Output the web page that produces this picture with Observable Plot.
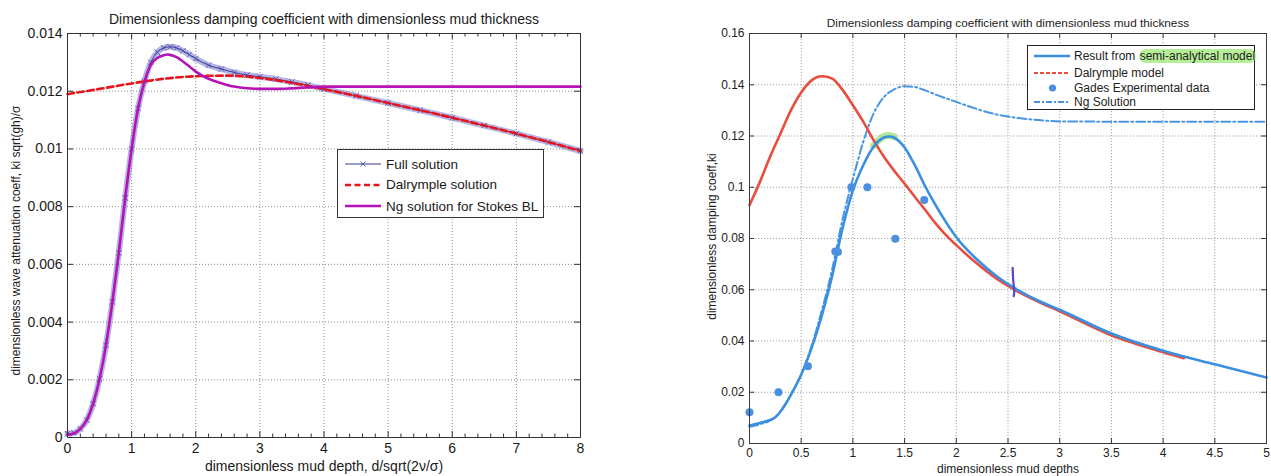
<!DOCTYPE html>
<html><head><meta charset="utf-8">
<script src="https://cdn.jsdelivr.net/npm/d3@7"></script>
<script src="https://cdn.jsdelivr.net/npm/@observablehq/plot@0.6"></script>
<style>
body{margin:0;background:#fff;}
#wrap{position:relative;width:1271px;height:476px;overflow:hidden;font-family:"Liberation Sans",Arial,sans-serif;}
#left,#right{position:absolute;top:0;}
#left{left:0}
#right{left:640px}
.legend{position:absolute;background:#fff;border:1px solid #333;box-sizing:border-box;}
.row{position:absolute;left:0;display:flex;align-items:center;white-space:nowrap;}
.row svg{display:block;}
.hl{background:#b6ee98;border-radius:7px;padding:0 1px;}
</style>
</head><body>
<div id="wrap">
  <div id="left"></div>
  <div id="right"></div>
</div>
<script>
// ---------------- LEFT PANEL DATA ----------------
const leftTitle = "Dimensionless damping coefficient with dimensionless mud thickness";
const leftXLabel = "dimensionless mud depth, d/sqrt(2\u03bd/\u03c3)";
const leftYLabel = "dimensionless wave attenuation coeff, ki sqrt(gh)/\u03c3";
const leftXTicks = [0,1,2,3,4,5,6,7,8];
const leftYTicks = [0,0.002,0.004,0.006,0.008,0.01,0.012,0.014];

const fullX = [0,0.1,0.2,0.3,0.4,0.5,0.6,0.7,0.8,0.9,1.0,1.1,1.2,1.3,1.4,1.5,1.6,1.7,1.8,1.9,2.0,2.2,2.4,2.6,2.8,3.0,3.25,3.5,3.75,4.0,4.5,5,5.5,6,6.5,7,7.5,8];
const fullY = [0.00013,0.00016,0.0003,0.0006,0.00117,0.00203,0.0032,0.0047,0.0064,0.0083,0.0100,0.0114,0.01235,0.0130,0.01335,0.01350,0.01354,0.01350,0.01340,0.01327,0.01313,0.01290,0.01277,0.01265,0.01256,0.01250,0.01242,0.01232,0.01221,0.01208,0.01184,0.01159,0.01134,0.01108,0.01081,0.01053,0.01024,0.00993];

const ngLX = [0,0.1,0.2,0.3,0.4,0.5,0.6,0.7,0.8,0.9,1.0,1.1,1.2,1.3,1.4,1.5,1.56,1.6,1.7,1.8,1.9,2.0,2.2,2.4,2.6,2.8,3.0,3.25,3.5,3.75,4.0,5,6,7,8];
const ngLY = [0.0001,0.00014,0.0003,0.0006,0.00117,0.00203,0.0032,0.0047,0.0064,0.0083,0.0100,0.0114,0.01232,0.01292,0.01315,0.01325,0.01327,0.01326,0.01318,0.01303,0.01286,0.01268,0.01243,0.01228,0.01216,0.01210,0.01208,0.01208,0.01210,0.01213,0.01216,0.01216,0.01216,0.01216,0.01216];

const dalLX = [0,0.5,1,1.5,2,2.5,3,3.5,4,4.5,5,5.5,6,6.5,7,7.5,8];
const dalLY = [0.0119,0.01208,0.01227,0.01243,0.01252,0.01254,0.01246,0.01229,0.01207,0.01184,0.01159,0.01134,0.01108,0.01081,0.01053,0.01024,0.00993];

const leftLegend = ["Full solution","Dalrymple solution","Ng solution for Stokes BL"];

// ---------------- RIGHT PANEL DATA ----------------
const rightTitle = "Dimensionless damping coefficient with dimensionless mud thickness";
const rightXLabel = "dimensionless mud depths";
const rightYLabel = "dimensionless damping coeff,ki";
const rightXTicks = [0,0.5,1,1.5,2,2.5,3,3.5,4,4.5,5];
const rightYTicks = [0,0.02,0.04,0.06,0.08,0.1,0.12,0.14,0.16];

const semiX = [0,0.1,0.2,0.25,0.3,0.35,0.4,0.5,0.6,0.7,0.8,0.9,1.0,1.1,1.2,1.3,1.35,1.4,1.5,1.6,1.7,1.8,1.9,2.0,2.2,2.4,2.6,2.8,3.0,3.5,4.0,4.5,5.0];
const semiY = [0.0070,0.0080,0.0092,0.0102,0.0125,0.0155,0.0190,0.0268,0.0372,0.0500,0.0655,0.0840,0.0988,0.1086,0.1158,0.1194,0.1198,0.1193,0.1155,0.1085,0.1003,0.0930,0.0864,0.0805,0.0718,0.0650,0.0598,0.0556,0.0522,0.0429,0.0362,0.0309,0.0258];

const dalRX = [0,0.1,0.2,0.3,0.4,0.5,0.6,0.7,0.8,0.9,1.0,1.1,1.2,1.3,1.4,1.5,1.6,1.7,1.8,1.9,2.0,2.2,2.4,2.6,2.8,3.0,3.5,4.0,4.2];
const dalRY = [0.093,0.102,0.112,0.121,0.130,0.137,0.1417,0.1433,0.1424,0.138,0.132,0.1256,0.1184,0.1119,0.1064,0.1014,0.0962,0.0911,0.0859,0.0813,0.0774,0.0702,0.0640,0.0592,0.0552,0.0516,0.0422,0.0356,0.0333];

const ngRX = [0,0.1,0.2,0.3,0.4,0.5,0.6,0.7,0.8,0.9,1.0,1.1,1.2,1.3,1.4,1.5,1.6,1.7,1.8,2.0,2.2,2.4,2.6,2.8,3.0,3.5,4.0,4.5,5.0];
const ngRY = [0.0065,0.0075,0.0090,0.0125,0.019,0.027,0.038,0.052,0.068,0.0875,0.1033,0.1177,0.1288,0.1352,0.1382,0.1394,0.1391,0.1378,0.1362,0.1333,0.1305,0.1283,0.1270,0.1262,0.1257,0.1256,0.1256,0.1256,0.1256];

const gadesX = [0,0.28,0.565,0.83,0.855,0.985,1.14,1.41,1.69];
const gadesY = [0.0122,0.020,0.0301,0.0749,0.0747,0.100,0.100,0.0799,0.0950];

const penX = [2.545,2.55,2.56,2.555];
const penY = [0.0685,0.064,0.059,0.0575];

const rightLegend = ["Result from ","semi-analytical model","Dalrymple model","Gades Experimental data","Ng Solution"];

// ---------------- HELPERS ----------------
const zip = (xs, ys) => xs.map((x, i) => ({x, y: ys[i]}));
const fmt = d => d === 0 ? "0" : String(+d.toFixed(4));
const FONT = "'Liberation Sans', Arial, sans-serif";

// ---------------- LEFT PLOT ----------------
{
  const W = 640, H = 476, ml = 67, mr = 60, mt = 33, mb = 39;
  const ph = H - mt - mb;
  const pw = W - ml - mr;
  const minor = d3.range(0, 41).map(i => i * 0.2).filter(v => !leftXTicks.includes(Math.round(v*100)/100));
  const full = zip(fullX, fullY), ng = zip(ngLX, ngLY), dal = zip(dalLX, dalLY);
  const grid = {stroke: "#8c8c8c", strokeWidth: 1, strokeDasharray: "1,2"};
  const txt = {fill: "#1a1a1a", textAnchor: "middle", lineAnchor: "middle"};
  const p = Plot.plot({
    width: W, height: H, marginLeft: ml, marginRight: mr, marginTop: mt, marginBottom: mb,
    style: {fontFamily: FONT, background: "transparent", color: "#1a1a1a"},
    x: {domain: [0, 8], axis: null},
    y: {domain: [0, 0.014], axis: null},
    marks: [
      Plot.ruleX(leftXTicks.slice(1, -1), grid),
      Plot.ruleY(leftYTicks.slice(1, -1), grid),
      Plot.tickX(leftXTicks, {x: d => d, insetTop: ph - 6, stroke: "#333"}),
      Plot.tickX(leftXTicks, {x: d => d, insetBottom: ph - 6, stroke: "#333"}),
      Plot.tickX(minor, {x: d => d, insetTop: ph - 3.5, stroke: "#333"}),
      Plot.tickX(minor, {x: d => d, insetBottom: ph - 3.5, stroke: "#333"}),
      Plot.tickY(leftYTicks, {y: d => d, insetRight: pw - 6, stroke: "#333"}),
      Plot.tickY(leftYTicks, {y: d => d, insetLeft: pw - 6, stroke: "#333"}),
      Plot.line(full, {x: "x", y: "y", stroke: "#6e6ec8", strokeWidth: 6, strokeOpacity: 0.5, curve: "monotone-x"}),
      Plot.line(full, {x: "x", y: "y", stroke: "#3a3a96", strokeWidth: 1, curve: "monotone-x"}),
      Plot.dot(full, {x: "x", y: "y", symbol: "times", r: 2.6, stroke: "#4b4bb0", strokeWidth: 0.9}),
      Plot.line(dal, {x: "x", y: "y", stroke: "#e8141c", strokeWidth: 2.6, strokeDasharray: "6.5,3.5", curve: "monotone-x"}),
      Plot.line(ng, {x: "x", y: "y", stroke: "#b512b8", strokeWidth: 2.6, curve: "monotone-x"}),
      Plot.frame({stroke: "#333", strokeWidth: 1}),
      Plot.text(leftXTicks, {...txt, x: d => d, frameAnchor: "bottom", dy: 11, text: fmt, fontSize: 14}),
      Plot.text(leftYTicks, {...txt, y: d => d, frameAnchor: "left", dx: -5, textAnchor: "end", text: fmt, fontSize: 14}),
      Plot.text([leftXLabel], {...txt, text: d => d, frameAnchor: "bottom", dy: 29, fontSize: 14}),
      Plot.text([leftYLabel], {...txt, text: d => d, frameAnchor: "left", dx: -51, dy: 5, rotate: -90, fontSize: 12}),
      Plot.text([leftTitle], {...txt, text: d => d, frameAnchor: "top", dy: -14, fontSize: 14})
    ]
  });
  document.getElementById("left").appendChild(p);

  const lg = document.createElement("div");
  lg.className = "legend";
  Object.assign(lg.style, {left: "337px", top: "149px", width: "207px", height: "69px"});
  const samples = [
    `<svg width="36" height="10"><line x1="0" y1="5" x2="36" y2="5" stroke="#3a3a96" stroke-width="1"/><path d="M15.5,2.5L20.5,7.5M20.5,2.5L15.5,7.5" stroke="#4b4bb0" stroke-width="0.9"/></svg>`,
    `<svg width="36" height="10"><line x1="0" y1="5" x2="36" y2="5" stroke="#e8141c" stroke-width="2.6" stroke-dasharray="6,3.5"/></svg>`,
    `<svg width="36" height="10"><line x1="0" y1="5" x2="36" y2="5" stroke="#b512b8" stroke-width="2.6"/></svg>`
  ];
  const tops = [14, 34.5, 56];
  leftLegend.forEach((t, i) => {
    const r = document.createElement("div");
    r.className = "row";
    Object.assign(r.style, {left: "7px", top: (tops[i] - 9) + "px", height: "18px", fontSize: "13.5px", color: "#1a1a1a"});
    r.innerHTML = samples[i] + `<span style="margin-left:5px">${t}</span>`;
    lg.appendChild(r);
  });
  document.getElementById("wrap").appendChild(lg);
}

// ---------------- RIGHT PLOT ----------------
{
  const W = 631, H = 476, ml = 109, mr = 5, mt = 33, mb = 33;
  const ph = H - mt - mb;
  const pw = W - ml - mr;
  const semi = zip(semiX, semiY), dal = zip(dalRX, dalRY), ng = zip(ngRX, ngRY), gades = zip(gadesX, gadesY), pen = zip(penX, penY);
  const grid = {stroke: "#9a9a9a", strokeWidth: 1, strokeDasharray: "1.2,1.8", strokeOpacity: 0.9};
  const txt = {fill: "#222", textAnchor: "middle", lineAnchor: "middle"};
  const p = Plot.plot({
    width: W, height: H, marginLeft: ml, marginRight: mr, marginTop: mt, marginBottom: mb,
    style: {fontFamily: FONT, background: "transparent", color: "#222"},
    x: {domain: [0, 5], axis: null},
    y: {domain: [0, 0.16], axis: null},
    marks: [
      Plot.ruleX(rightXTicks.slice(1, -1), grid),
      Plot.ruleY(rightYTicks.slice(1, -1), grid),
      Plot.tickX(rightXTicks, {x: d => d, insetTop: ph - 5, stroke: "#333"}),
      Plot.tickX(rightXTicks, {x: d => d, insetBottom: ph - 5, stroke: "#333"}),
      Plot.tickY(rightYTicks, {y: d => d, insetRight: pw - 5, stroke: "#333"}),
      Plot.tickY(rightYTicks, {y: d => d, insetLeft: pw - 5, stroke: "#333"}),
      Plot.line(semi.filter(d => d.x >= 1.15 && d.x <= 1.42), {x: "x", y: "y", stroke: "#a6e486", strokeWidth: 7, strokeOpacity: 0.85, dy: -1, curve: "monotone-x"}),
      Plot.line(ng, {x: "x", y: "y", stroke: "#4a95e2", strokeWidth: 2, strokeDasharray: "9,3,2,3", curve: "monotone-x"}),
      Plot.line(dal, {x: "x", y: "y", stroke: "#e84d3e", strokeWidth: 2.6, curve: "monotone-x"}),
      Plot.line(semi, {x: "x", y: "y", stroke: "#3a8fe0", strokeWidth: 2.6, curve: "monotone-x"}),
      Plot.dot(gades, {x: "x", y: "y", r: 4, fill: "#4b8fe0", stroke: "none"}),
      Plot.line(pen, {x: "x", y: "y", stroke: "#5b45c8", strokeWidth: 2.2, curve: "catmull-rom"}),
      Plot.frame({stroke: "#3a3a3a", strokeWidth: 1}),
      Plot.text(rightXTicks, {...txt, x: d => d, frameAnchor: "bottom", dy: 10, text: fmt, fontSize: 12}),
      Plot.text(rightYTicks, {...txt, y: d => d, frameAnchor: "left", dx: -5, textAnchor: "end", text: fmt, fontSize: 12}),
      Plot.text([rightXLabel], {...txt, text: d => d, frameAnchor: "bottom", dy: 26, fontSize: 12}),
      Plot.text([rightYLabel], {...txt, text: d => d, frameAnchor: "left", dx: -37, dy: -2, rotate: -90, fontSize: 12}),
      Plot.text([rightTitle], {...txt, text: d => d, frameAnchor: "top", dy: -10, fontSize: 11.8})
    ]
  });
  document.getElementById("right").appendChild(p);

  const lg = document.createElement("div");
  lg.className = "legend";
  Object.assign(lg.style, {left: "1027px", top: "45px", width: "228px", height: "65px", borderColor: "#222"});
  const samples = [
    `<svg width="36" height="10"><line x1="0" y1="5" x2="36" y2="5" stroke="#3a8fe0" stroke-width="2.6"/></svg>`,
    `<svg width="36" height="10"><line x1="0" y1="5" x2="36" y2="5" stroke="#e84d3e" stroke-width="2.2" stroke-dasharray="4,2"/></svg>`,
    `<svg width="36" height="10"><circle cx="18.5" cy="5" r="3.6" fill="#4b8fe0"/></svg>`,
    `<svg width="36" height="10"><line x1="0" y1="5" x2="36" y2="5" stroke="#4a95e2" stroke-width="2" stroke-dasharray="6,2,2,2"/></svg>`
  ];
  const labels = [
    `${rightLegend[0]}<span class="hl">${rightLegend[1]}</span>`,
    rightLegend[2], rightLegend[3], rightLegend[4]
  ];
  const tops = [10, 27, 42, 56];
  labels.forEach((t, i) => {
    const r = document.createElement("div");
    r.className = "row";
    Object.assign(r.style, {left: "6px", top: (tops[i] - 8) + "px", height: "16px", fontSize: "12px", color: "#222"});
    r.innerHTML = samples[i] + `<span style="margin-left:4px">${t}</span>`;
    lg.appendChild(r);
  });
  document.getElementById("wrap").appendChild(lg);
}
</script>
</body></html>
